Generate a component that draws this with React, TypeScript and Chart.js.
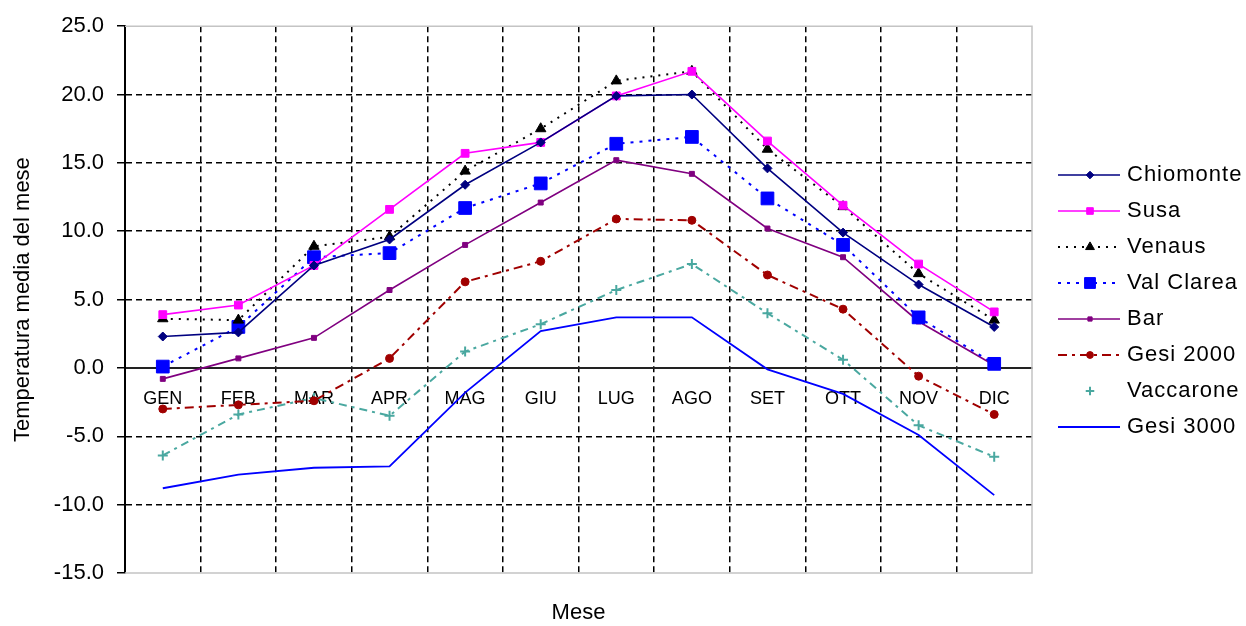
import React, { useEffect, useRef } from 'react';
import { Chart, registerables } from 'chart.js';
import { drawPoint } from 'chart.js/helpers';

Chart.register(...registerables);

const months = ['GEN', 'FEB', 'MAR', 'APR', 'MAG', 'GIU', 'LUG', 'AGO', 'SET', 'OTT', 'NOV', 'DIC'];
const chiomonte = [2.3, 2.6, 7.5, 9.4, 13.4, 16.5, 19.9, 20.0, 14.6, 9.9, 6.1, 3.0];
const susa = [3.9, 4.6, 7.5, 11.6, 15.7, 16.5, 19.9, 21.7, 16.6, 11.9, 7.6, 4.1];
const venaus = [3.6, 3.5, 8.9, 9.6, 14.4, 17.5, 21.0, 21.7, 16.0, 11.8, 6.9, 3.5];
const valClarea = [0.1, 3.0, 8.1, 8.4, 11.7, 13.5, 16.4, 16.9, 12.4, 9.0, 3.7, 0.3];
const bar = [-0.8, 0.7, 2.2, 5.7, 9.0, 12.1, 15.2, 14.2, 10.2, 8.1, 3.4, 0.2];
const gesi2000 = [-3.0, -2.7, -2.4, 0.7, 6.3, 7.8, 10.9, 10.8, 6.8, 4.3, -0.6, -3.4];
const vaccarone = [-6.4, -3.4, -2.2, -3.5, 1.2, 3.2, 5.7, 7.6, 4.0, 0.6, -4.2, -6.5];
const gesi3000 = [-8.8, -7.8, -7.3, -7.2, -1.8, 2.7, 3.7, 3.7, -0.1, -1.9, -4.9, -9.3];

const yMin = -15;
const yMax = 25;
const yStep = 5;

const FONT = '"Liberation Sans", Arial, sans-serif';

// legend layout
const LEG_LINE_X1 = 1058;
const LEG_LINE_X2 = 1120;
const LEG_MARK_X = 1090;
const LEG_TEXT_X = 1127;
const LEG_TOP = 175;
const LEG_STEP = 36;
const legendShowLine = [true, true, true, true, true, true, false, true];

const sideLegend = {
  id: 'sideLegend',
  afterDraw(chart: any) {
    const ctx = chart.ctx;
    chart.data.datasets.forEach((ds: any, i: number) => {
      const y = LEG_TOP + i * LEG_STEP;
      ctx.save();
      if (legendShowLine[i]) {
        ctx.strokeStyle = ds.borderColor;
        ctx.lineWidth = ds.borderWidth;
        ctx.setLineDash(ds.borderDash || []);
        ctx.beginPath();
        ctx.moveTo(LEG_LINE_X1, y);
        ctx.lineTo(LEG_LINE_X2, y);
        ctx.stroke();
      }
      ctx.setLineDash([]);
      if (ds.pointRadius > 0) {
        ctx.fillStyle = ds.pointBackgroundColor;
        ctx.strokeStyle = ds.pointBorderColor;
        ctx.lineWidth = ds.pointBorderWidth;
        drawPoint(ctx, { pointStyle: ds.pointStyle, radius: ds.pointRadius * 0.85, rotation: 0, borderWidth: ds.pointBorderWidth }, LEG_MARK_X, y);
      }
      ctx.fillStyle = '#000';
      ctx.font = `22px ${FONT}`;
      try { (ctx as any).letterSpacing = '1px'; } catch (e) { /* ignore */ }
      ctx.textBaseline = 'middle';
      ctx.textAlign = 'left';
      ctx.fillText(ds.label, LEG_TEXT_X, y);
      ctx.restore();
    });
  },
};

const plotFrame = {
  id: 'plotFrame',
  beforeDatasetsDraw(chart: any) {
    const { ctx, chartArea } = chart;
    const { left, right, top, bottom } = chartArea;
    ctx.save();
    ctx.strokeStyle = '#c4c4c4';
    ctx.lineWidth = 1.5;
    ctx.beginPath();
    ctx.moveTo(left, top);
    ctx.lineTo(right, top);
    ctx.lineTo(right, bottom);
    ctx.lineTo(left, bottom);
    ctx.stroke();
    ctx.restore();
  },
};

function series(label: string, data: number[], color: string, opts: any) {
  return {
    label,
    data,
    borderColor: color,
    backgroundColor: color,
    pointBackgroundColor: color,
    pointBorderColor: color,
    pointBorderWidth: 1,
    borderWidth: 1.6,
    tension: 0,
    fill: false,
    ...opts,
  };
}

export default function App() {
  const ref = useRef<HTMLCanvasElement>(null);
  useEffect(() => {
    document.body.style.margin = '0';
    const chart = new Chart(ref.current!, {
      type: 'line',
      data: {
        labels: months,
        datasets: [
          series('Chiomonte', chiomonte, '#000080', { pointStyle: 'rectRot', pointRadius: 4.5 }),
          series('Susa', susa, '#ff00ff', { pointStyle: 'rect', pointRadius: 5.5 }),
          series('Venaus', venaus, '#000000', { pointStyle: 'triangle', pointRadius: 6, borderWidth: 2, borderDash: [2, 6] }),
          series('Val Clarea', valClarea, '#0000ff', { pointStyle: 'rect', pointRadius: 9, borderWidth: 2, borderDash: [3, 6] }),
          series('Bar', bar, '#800080', { pointStyle: 'rect', pointRadius: 3.5 }),
          series('Gesi 2000', gesi2000, '#a00000', { pointStyle: 'circle', pointRadius: 4, borderWidth: 2, borderDash: [9, 5, 3, 5] }),
          series('Vaccarone', vaccarone, '#4aa8a0', { pointStyle: 'cross', pointRadius: 5, pointBorderWidth: 2, borderWidth: 2, borderDash: [8, 5, 3, 5] }),
          series('Gesi 3000', gesi3000, '#0000ff', { pointStyle: 'circle', pointRadius: 0, borderWidth: 1.8 }),
        ],
      },
      options: {
        responsive: false,
        animation: false,
        devicePixelRatio: 1,
        layout: { padding: { left: 0, top: 22, right: 214, bottom: 0 } },
        plugins: {
          legend: { display: false },
          tooltip: { enabled: false },
        },
        scales: {
          x: {
            type: 'category',
            position: { y: 0 } as any,
            offset: true,
            grid: {
              offset: true,
              drawTicks: false,
              lineWidth: 1.5,
              color: (c: any) => (c.type !== 'tick' || c.index === 0 ? 'rgba(0,0,0,0)' : '#000'),
            },
            border: { display: true, color: '#222', width: 2, dash: [6, 4] },
            ticks: { padding: 20, color: '#000', font: { size: 18, family: FONT }, maxRotation: 0, autoSkip: false },
          },
          xb: {
            type: 'category',
            position: 'bottom',
            offset: true,
            grid: { display: false },
            border: { display: false },
            ticks: { display: false },
            title: { display: true, text: 'Mese', color: '#000', font: { size: 22, family: FONT }, padding: { top: 0, bottom: 0 } },
            afterFit(s: any) { s.height = 53; },
          },
          y: {
            min: yMin,
            max: yMax,
            ticks: {
              stepSize: yStep,
              padding: 13,
              color: '#000',
              font: { size: 22, family: FONT },
              callback: (v: any) => Number(v).toFixed(1),
            },
            grid: {
              lineWidth: 1.5,
              color: (c: any) => {
                const v = c.tick ? c.tick.value : null;
                if (v === yMin || v === yMax || v === 0 || v === null) return 'rgba(0,0,0,0)';
                return '#000';
              },
              tickColor: '#000',
              tickLength: 8,
              tickWidth: 1.5,
              tickBorderDash: [],
            },
            border: { display: true, color: '#000', width: 2, dash: [6, 4] },
            title: { display: true, text: 'Temperatura media del mese', color: '#000', font: { size: 22, family: FONT }, padding: { top: 10, bottom: 0 } },
            afterFit(s: any) { s.width = 125; },
          },
        },
      } as any,
      plugins: [plotFrame, sideLegend],
    });
    return () => chart.destroy();
  }, []);
  return (
    <div style={{ width: 1246, height: 626 }}>
      <canvas ref={ref} width={1246} height={626} style={{ display: 'block' }} />
    </div>
  );
}
